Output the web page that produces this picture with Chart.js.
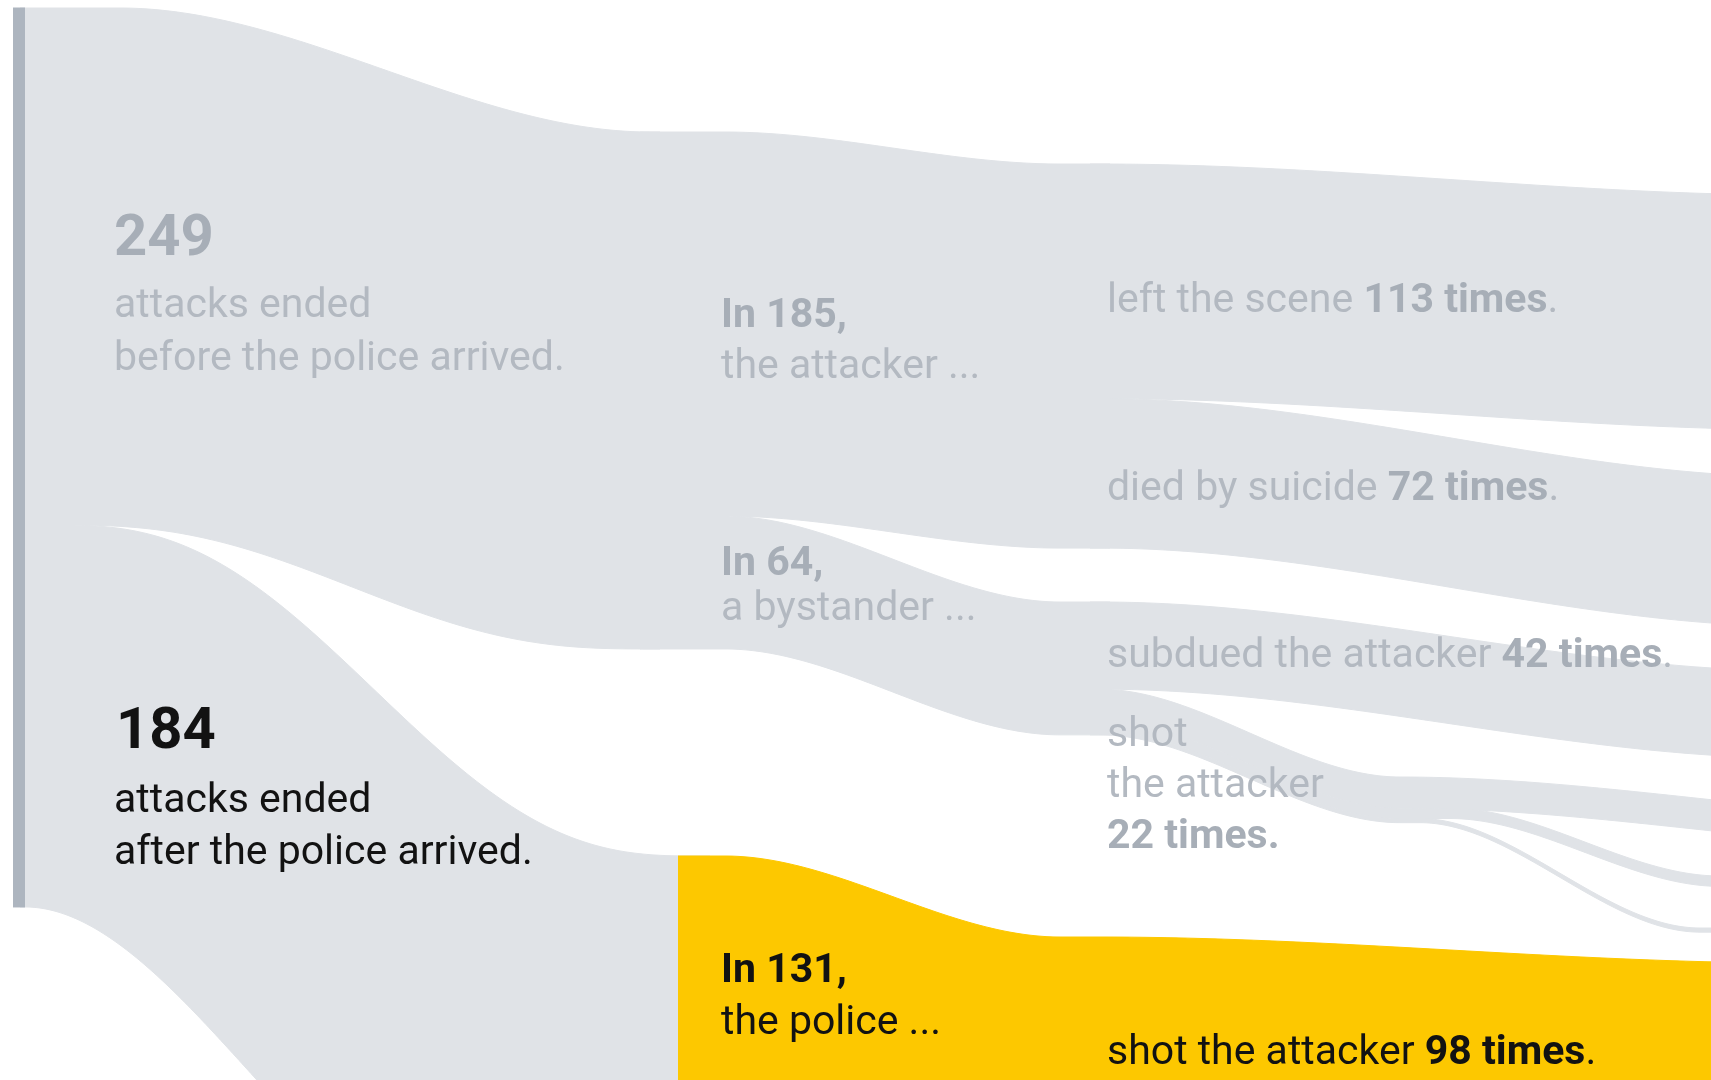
<!DOCTYPE html>
<html>
<head>
<meta charset="utf-8">
<title>How attacks ended</title>
<script src="https://cdn.jsdelivr.net/npm/chart.js@4.4.1/dist/chart.umd.min.js"></script>
<style>
  html, body { margin: 0; padding: 0; background: #fff; }
  #wrap { position: relative; width: 1711px; height: 1080px; overflow: hidden; }
  #flows { position: absolute; left: 0; top: 0; }
  #labels { position: absolute; left: 0; top: 0; width: 1711px; height: 1080px; pointer-events: none; }
  .lbl { position: absolute; white-space: nowrap; font-family: Roboto, "Liberation Sans", sans-serif;
         font-size: 41px; line-height: 1; color: #b3b9c1; }
  .lbl b { font-weight: 700; color: #a7aeb7; }
  .big { font-size: 58px; font-weight: 700; color: #a7aeb7; }
  .dark, .dark b { color: #121212; }
  .probe { display: inline-block; width: 0; height: 0; vertical-align: baseline; }
</style>
</head>
<body>
<div id="wrap">
  <canvas id="flows" width="1711" height="1080"></canvas>
  <div id="labels"></div>
</div>
<script>
// --- data: how the attacks ended ---
const arrivalLabels = ["before the police arrived.", "after the police arrived."];
const arrivalValues = [249, 184];

const stopperLabels = ["the attacker ...", "a bystander ...", "the police ..."];
const stopperValues = [185, 64, 131];

const attackerOutcomes = ["left the scene", "died by suicide"];
const attackerValues = [113, 72];

const bystanderOutcomes = ["subdued the attacker", "shot the attacker"];
const bystanderValues = [42, 22];

// the 22 bystander shootings split again off to the right
const bystanderShotSplit = [15, 5, 2];

const policeOutcomes = ["shot the attacker"];
const policeValues = [98];

// --- layout (screen px) ---
const PX_W = 1711, PX_H = 1080;
const Y_MAX = 520.2;                      // attacks that fit in the picture height
const toUnits = px => px * Y_MAX / PX_H;

const BAR_LEFT = 13, BAR_RIGHT = 25, STACK_TOP = 8;
const C1_IN = 650, C1_OUT = 725, POLICE_X = 678;
const C2_IN = 1060, C2_OUT = 1100, C3 = 1800;

const GRAY = "#e0e3e7", BAR = "#adb5bf", YELLOW = "#fdc800";

const easings = {
    smooth: t => t * t * (3 - 2 * t),
    smoother: t => t * t * t * (t * (t * 6 - 15) + 10)
};

// y of an edge at x, eased between stations
function edgeAt(stations, x, easeName) {
    const ease = easings[easeName || "smooth"];
    if (x <= stations[0][0]) return stations[0][1];
    for (let i = 0; i < stations.length - 1; i++) {
        let [x0, y0] = stations[i];
        let [x1, y1] = stations[i + 1];
        if (x <= x1) return y0 + (y1 - y0) * ease((x - x0) / (x1 - x0));
    }
    return stations[stations.length - 1][1];
}

function sampleXs(a, b) {
    let xs = [];
    for (let x = a; x < b; x += 3) xs.push(x);
    xs.push(b);
    return xs;
}

const total = arrivalValues[0] + arrivalValues[1];
const top0 = toUnits(STACK_TOP);
const top1 = toUnits(132);          // attacker / bystander group
const police1 = toUnits(856);
const top2 = toUnits(164);          // attacker outcomes
const bystander2 = toUnits(602);    // bystander outcomes
const police2 = toUnits(937);
const shotTop2 = bystander2 + bystanderValues[0];
const shotKnee = toUnits(777);

// first in the list is drawn on top
const bands = [
    { value: total, color: BAR, x: [BAR_LEFT, BAR_RIGHT], top: [[BAR_LEFT, top0]] },
    // the police (yellow)
    { value: stopperValues[2], color: YELLOW, x: [POLICE_X, PX_W],
      top: [[C1_OUT, police1], [C2_IN, police2], [C2_OUT, police2], [C3, toUnits(963)]] },
    // ended after the police arrived
    { value: arrivalValues[1], color: GRAY, x: [20, 710], ease: "smoother",
      top: [[50, top0 + arrivalValues[0]], [700, police1]], bottomX: [25, 475], bottomEase: "smooth" },
    // ended before the police arrived
    { value: arrivalValues[0], color: GRAY, x: [20, 660],
      top: [[120, top0], [C1_IN, top1]], bottomX: [54, C1_IN], bottomEase: "smoother" },
    // the attacker
    { value: stopperValues[0], color: GRAY, x: [640, 1110], top: [[C1_OUT, top1], [C2_IN, top2]] },
    // a bystander
    { value: stopperValues[1], color: GRAY, x: [640, 1110],
      top: [[C1_OUT, top1 + stopperValues[0]], [C2_IN, bystander2]] },
    // left the scene
    { value: attackerValues[0], color: GRAY, x: [1090, PX_W], top: [[C2_OUT, top2], [C3, toUnits(195)]] },
    // died by suicide
    { value: attackerValues[1], color: GRAY, x: [1090, PX_W],
      top: [[C2_OUT, top2 + attackerValues[0]], [C3, toUnits(477)]] },
    // subdued the attacker
    { value: bystanderValues[0], color: GRAY, x: [1090, PX_W], top: [[C2_OUT, bystander2], [C3, toUnits(671)]] },
    // bystander shot the attacker, three strands
    { value: bystanderShotSplit[0], color: GRAY, x: [1090, PX_W],
      top: [[C2_OUT, shotTop2], [1400, shotKnee], [2000, toUnits(820)]] },
    { value: bystanderShotSplit[1], color: GRAY, x: [1090, PX_W],
      top: [[C2_OUT, shotTop2 + bystanderShotSplit[0]], [1400, shotKnee + bystanderShotSplit[0]],
            [1450, shotKnee + bystanderShotSplit[0]], [1720, toUnits(876)]] },
    { value: bystanderShotSplit[2], color: GRAY, x: [1090, PX_W],
      top: [[C2_OUT, shotTop2 + bystanderShotSplit[0] + bystanderShotSplit[1]],
            [1400, shotKnee + bystanderShotSplit[0] + bystanderShotSplit[1]],
            [1420, shotKnee + bystanderShotSplit[0] + bystanderShotSplit[1]], [1700, toUnits(928)]] }
];

let datasets = [];
bands.forEach(b => {
    let bottom = b.top.map(([x, y], i) => [b.bottomX ? b.bottomX[i] : x, y + b.value]);
    let xs = sampleXs(b.x[0], b.x[1]);
    datasets.push({
        data: xs.map(x => ({ x: x, y: edgeAt(b.top, x, b.ease) })),
        fill: "+1", backgroundColor: b.color, borderColor: b.color, borderWidth: 1, pointRadius: 0
    });
    datasets.push({
        data: xs.map(x => ({ x: x, y: edgeAt(bottom, x, b.bottomEase || b.ease) })),
        fill: false, borderColor: b.color, borderWidth: 1, pointRadius: 0
    });
});

// --- labels: x and baseline in screen px ---
const shotWords = bystanderOutcomes[1].split(" ");
const labels = [
    { x: 114, base: 255, cls: "big", html: `${arrivalValues[0]}` },
    { x: 114, base: 317, html: "attacks ended" },
    { x: 114, base: 370, html: arrivalLabels[0] },
    { x: 116, base: 748, cls: "big dark", html: `${arrivalValues[1]}` },
    { x: 114, base: 812, cls: "dark", html: "attacks ended" },
    { x: 114, base: 864, cls: "dark", html: arrivalLabels[1] },

    { x: 721, base: 327, html: `<b>In ${stopperValues[0]},</b>` },
    { x: 721, base: 378, html: stopperLabels[0] },
    { x: 721, base: 575, html: `<b>In ${stopperValues[1]},</b>` },
    { x: 721, base: 620, html: stopperLabels[1] },
    { x: 721, base: 982, cls: "dark", html: `<b>In ${stopperValues[2]},</b>` },
    { x: 721, base: 1034, cls: "dark", html: stopperLabels[2] },

    { x: 1107, base: 312, html: `${attackerOutcomes[0]} <b>${attackerValues[0]} times</b>.` },
    { x: 1107, base: 500, html: `${attackerOutcomes[1]} <b>${attackerValues[1]} times</b>.` },
    { x: 1107, base: 667, html: `${bystanderOutcomes[0]} <b>${bystanderValues[0]} times</b>.` },
    { x: 1107, base: 746, html: shotWords[0] },
    { x: 1107, base: 797, html: shotWords.slice(1).join(" ") },
    { x: 1107, base: 848, html: `<b>${bystanderValues[1]} times.</b>` },
    { x: 1107, base: 1064, cls: "dark", html: `${policeOutcomes[0]} <b>${policeValues[0]} times</b>.` }
];

const labelPlugin = {
    id: "flowLabels",
    afterRender(chart) {
        if (chart._labelsDone) return;
        chart._labelsDone = true;
        const layer = document.getElementById("labels");
        labels.forEach(lab => {
            let el = document.createElement("div");
            el.className = "lbl " + (lab.cls || "");
            el.innerHTML = lab.html + '<span class="probe"></span>';
            layer.appendChild(el);
            let off = el.querySelector(".probe").getBoundingClientRect().top - el.getBoundingClientRect().top;
            el.style.left = chart.scales.x.getPixelForValue(lab.x) + "px";
            el.style.top = (chart.scales.y.getPixelForValue(toUnits(lab.base)) - off) + "px";
        });
    }
};

new Chart(document.getElementById("flows"), {
    type: "line",
    data: { datasets: datasets },
    options: {
        responsive: false,
        animation: false,
        events: [],
        layout: { padding: 0 },
        plugins: {
            legend: { display: false },
            tooltip: { enabled: false },
            filler: { propagate: false }
        },
        scales: {
            x: { type: "linear", min: 0, max: PX_W, display: false },
            y: { type: "linear", min: 0, max: Y_MAX, reverse: true, display: false }
        },
        elements: { line: { tension: 0 } }
    },
    plugins: [labelPlugin]
});
</script>
</body>
</html>
